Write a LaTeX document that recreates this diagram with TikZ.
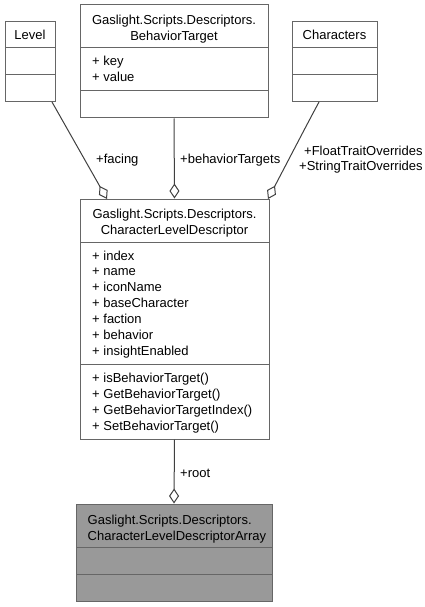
\documentclass[tikz,border=0pt]{standalone}
\usepackage{fontspec}
\setmainfont{Liberation Sans}
\usetikzlibrary{arrows.meta}
\definecolor{boxline}{HTML}{666666}
\definecolor{edgeline}{HTML}{404040}
\definecolor{hilite}{HTML}{999999}
\tikzset{
  umlbox/.style={draw=boxline, line width=1pt, fill=white, inner sep=0pt},
  hlbox/.style={umlbox, fill=hilite},
  divider/.style={draw=boxline, line width=1pt},
  txt/.style={inner sep=0pt, font=\fontsize{13}{16}\selectfont, anchor=base},
  ltxt/.style={txt, anchor=base west},
  edge/.style={draw=edgeline, line width=1pt, {Diamond[open,length=15pt,width=10pt,line width=1pt]}-},
}
\begin{document}
\begin{tikzpicture}[x=1pt,y=-1pt]
\useasboundingbox (0,0) rectangle (425,607);

% Level
\node[umlbox, minimum width=50pt, minimum height=80pt] (level) at (30,62) {};
\draw[divider] (5,48) -- (55,48) (5,75) -- (55,75);
\node[txt] (levelt) at (30,40) {Level};

% BehaviorTarget
\node[umlbox, minimum width=188pt, minimum height=113pt] (bt) at (174,61.5) {};
\draw[divider] (80,48) -- (268,48) (80,91) -- (268,91);
\node[txt] (btt1) at (174,25) {Gaslight.Scripts.Descriptors.};
\node[txt] (btt2) at (174,41) {BehaviorTarget};
\node[ltxt] (bta1) at (92,66) {+ key};
\node[ltxt] (bta2) at (92,82) {+ value};

% Characters
\node[umlbox, minimum width=85pt, minimum height=80pt] (chars) at (334.5,62) {};
\draw[divider] (292,48) -- (377,48) (292,75) -- (377,75);
\node[txt] (charst) at (334.5,40) {Characters};

% CharacterLevelDescriptor
\node[umlbox, minimum width=189pt, minimum height=240pt] (cld) at (174.5,319) {};
\draw[divider] (80,242) -- (269,242) (80,364) -- (269,364);
\node[txt] (cldt1) at (174.5,218) {Gaslight.Scripts.Descriptors.};
\node[txt] (cldt2) at (174.5,234) {CharacterLevelDescriptor};
\foreach \t [count=\i from 0] in {index,name,iconName,baseCharacter,faction,behavior,insightEnabled}
  \node[ltxt] (clda\i) at (92,260+15.85*\i) {+ \t};
\foreach \t [count=\i from 0] in {isBehaviorTarget(),GetBehaviorTarget(),GetBehaviorTargetIndex(),SetBehaviorTarget()}
  \node[ltxt] (cldm\i) at (92,382+16*\i) {+ \t};

% CharacterLevelDescriptorArray
\node[hlbox, minimum width=196pt, minimum height=97pt] (arr) at (174,552.5) {};
\draw[divider] (76,547) -- (272,547) (76,574) -- (272,574);
\node[ltxt] (arrt1) at (87.5,524) {Gaslight.Scripts.Descriptors.};
\node[ltxt] (arrt2) at (87.5,540) {CharacterLevelDescriptorArray};

% connectors
\coordinate (facingTip) at (107,199);
\coordinate (levelEnd) at (52,102);
\draw[edge] (facingTip) -- (levelEnd);
\draw[edge] (cld.north) -- (bt.south);
\coordinate (charTip) at (268,199);
\coordinate (charEnd) at (319,102);
\draw[edge] (charTip) .. controls (288,161) and (305,128) .. (charEnd);
\draw[edge] (arr.north) -- (cld.south);

% labels
\node[ltxt] (lfacing) at (96,163) {+facing};
\node[ltxt] (lbt) at (180,163) {+behaviorTargets};
\node[ltxt] (lfloat) at (304,155) {+FloatTraitOverrides};
\node[ltxt] (lstring) at (299,170) {+StringTraitOverrides};
\node[ltxt] (lroot) at (180,477) {+root};
\end{tikzpicture}
\end{document}
